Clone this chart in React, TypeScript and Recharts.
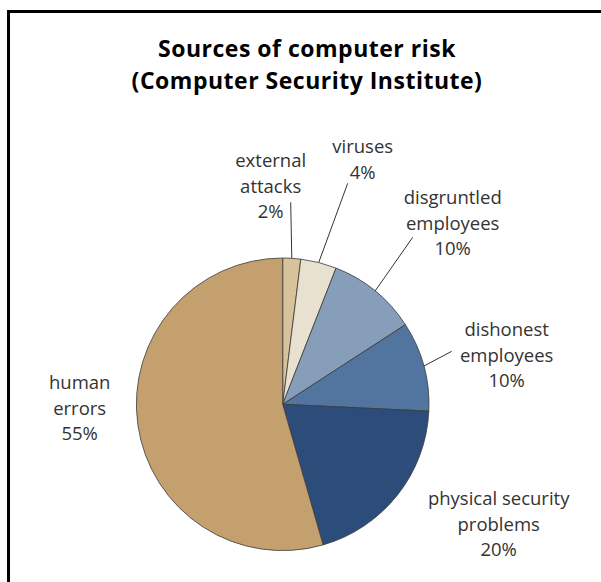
import React from "react";
import { PieChart, Pie, Cell } from "recharts";

// slices run clockwise from 12 o'clock
const sources = ["external attacks", "viruses", "disgruntled employees", "dishonest employees", "physical security problems", "human errors"];
const shares = [2, 4, 10, 10, 20, 55];
const labelLines = [["external", "attacks"], ["viruses"], ["disgruntled", "employees"], ["dishonest", "employees"], ["physical security", "problems"], ["human", "errors"]];
const colors = ["#D8C29C", "#E8E1D0", "#879EBA", "#52759F", "#2C4C79", "#C4A06E"];

// label placement relative to the pie centre: leader end (lx, ly) and first text baseline (tx, ty)
const labelLayout = [
  { lx: 8, ly: -202, tx: -12, ty: -237 },
  { lx: 65, ly: -221, tx: 80, ty: -251 },
  { lx: 130, ly: -167, tx: 170, ty: -200 },
  { lx: 169, ly: -53, tx: 224, ty: -68 },
  { lx: null, ly: null, tx: 216, ty: 101 },
  { lx: null, ly: null, tx: -203, ty: -15 },
];

const data = sources.map((name, i) => ({ name, value: shares[i] }));

const FONT = "'Open Sans', sans-serif";
const LINE_H = 25.5;

const RAD = Math.PI / 180;

function renderLabel(props: any) {
  const { cx, cy, midAngle, outerRadius, index, value } = props;
  const lay = labelLayout[index];
  const ex = cx + outerRadius * Math.cos(-midAngle * RAD);
  const ey = cy + outerRadius * Math.sin(-midAngle * RAD);
  const lines = [...labelLines[index], `${value}%`];
  return (
    <g key={`lbl-${index}`}>
      {lay.lx !== null && (
        <line x1={ex} y1={ey} x2={cx + lay.lx} y2={cy + (lay.ly as number)} stroke="#333" strokeWidth={1} />
      )}
      {lines.map((t, k) => (
        <text
          key={k}
          x={cx + lay.tx}
          y={cy + lay.ty + k * LINE_H}
          textAnchor="middle"
          fill="#333"
          fontFamily={FONT}
          fontSize={18.5}
        >
          {t}
        </text>
      ))}
    </g>
  );
}

export default function App() {
  return (
    <div style={{ position: "absolute", left: 0, top: 0, width: 601, height: 582, background: "#fff", overflow: "hidden" }}>
      <div
        style={{
          position: "absolute",
          left: 7,
          top: 10,
          width: 600,
          height: 580,
          borderTop: "3px solid #000",
          borderLeft: "3px solid #000",
        }}
      />
      <div
        style={{
          position: "absolute",
          left: 0,
          top: 32,
          width: 614,
          textAlign: "center",
          fontFamily: FONT,
          fontWeight: 700,
          fontSize: 23,
          lineHeight: "32px",
          color: "#000",
          letterSpacing: 0.5,
        }}
      >
        Sources of computer risk
        <br />
        (Computer Security Institute)
      </div>
      <div style={{ position: "absolute", left: 0, top: 0 }}>
        <PieChart width={601} height={582} margin={{ top: 0, right: 0, bottom: 0, left: 0 }}>
          <Pie
            data={data}
            dataKey="value"
            nameKey="name"
            cx={282.7}
            cy={404.3}
            outerRadius={146.3}
            startAngle={90}
            endAngle={-270}
            stroke="#3a3a3a"
            strokeWidth={0.8}
            label={renderLabel}
            labelLine={false}
            isAnimationActive={false}
          >
            {data.map((d, i) => (
              <Cell key={d.name} fill={colors[i]} />
            ))}
          </Pie>
        </PieChart>
      </div>
    </div>
  );
}
